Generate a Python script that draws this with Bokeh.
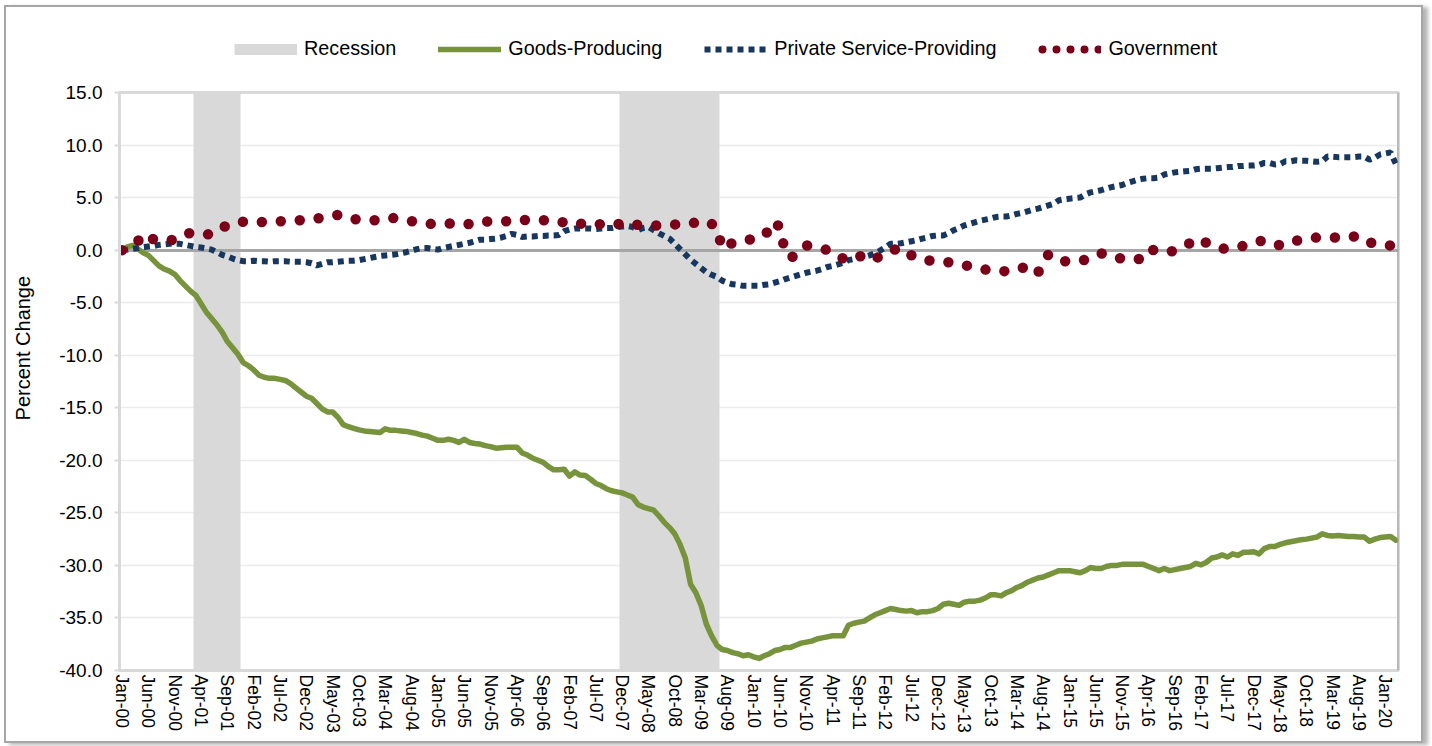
import math
from bokeh.plotting import figure
from bokeh.layouts import column
from bokeh.models import (FixedTicker, NumeralTickFormatter, Legend, LegendItem,
                          Span, ColumnDataSource)
from bokeh.embed import file_html
from bokeh.resources import INLINE

# ---------------- data (percent change since Jan-00, monthly Jan-00 .. Mar-20) -------------
tick_labels = ["Jan-00", "Jun-00", "Nov-00", "Apr-01", "Sep-01", "Feb-02", "Jul-02", "Dec-02",
               "May-03", "Oct-03", "Mar-04", "Aug-04", "Jan-05", "Jun-05", "Nov-05", "Apr-06",
               "Sep-06", "Feb-07", "Jul-07", "Dec-07", "May-08", "Oct-08", "Mar-09", "Aug-09",
               "Jan-10", "Jun-10", "Nov-10", "Apr-11", "Sep-11", "Feb-12", "Jul-12", "Dec-12",
               "May-13", "Oct-13", "Mar-14", "Aug-14", "Jan-15", "Jun-15", "Nov-15", "Apr-16",
               "Sep-16", "Feb-17", "Jul-17", "Dec-17", "May-18", "Oct-18", "Mar-19", "Aug-19",
               "Jan-20"]

# recession periods as month indices (0 = Jan-00)
rec_start = [14, 95]   # Mar-01, Dec-07
rec_end = [22, 113]    # Nov-01, Jun-09

goods = [
    0.0, 0.3, 0.45, 0.1, -0.25, -0.5, -1.0, -1.5, -1.8, -2.0, -2.3, -2.9,
    -3.4, -3.9, -4.3, -5.1, -5.9, -6.5, -7.1, -7.8, -8.7, -9.3, -9.9, -10.7,
    -11.0, -11.4, -11.9, -12.1, -12.2, -12.2, -12.3, -12.4, -12.7, -13.1, -13.5, -13.9,
    -14.1, -14.6, -15.1, -15.4, -15.4, -15.9, -16.6, -16.8, -16.95, -17.1, -17.2, -17.25,
    -17.3, -17.35, -17.0, -17.15, -17.15, -17.2, -17.25, -17.35, -17.45, -17.6, -17.7, -17.9,
    -18.1, -18.1, -18.0, -18.1, -18.3, -18.0, -18.3, -18.4, -18.45, -18.6, -18.7, -18.85,
    -18.8, -18.75, -18.75, -18.75, -19.3, -19.5, -19.8, -20.0, -20.2, -20.6, -20.9, -20.9,
    -20.85, -21.5, -21.1, -21.4, -21.45, -21.8, -22.2, -22.4, -22.7, -22.9, -23.0, -23.1,
    -23.3, -23.5, -24.2, -24.45, -24.6, -24.75, -25.3, -25.9, -26.4, -27.0, -28.0, -29.3,
    -31.8, -32.6, -33.8, -35.6, -36.7, -37.6, -38.0, -38.1, -38.3, -38.4, -38.6, -38.5,
    -38.7, -38.85, -38.6, -38.4, -38.1, -38.0, -37.8, -37.8, -37.6, -37.4, -37.3, -37.2,
    -37.0, -36.9, -36.8, -36.7, -36.7, -36.7, -35.7, -35.5, -35.4, -35.3, -35.0, -34.7,
    -34.5, -34.3, -34.1, -34.2, -34.3, -34.35, -34.3, -34.5, -34.4, -34.4, -34.3, -34.1,
    -33.7, -33.6, -33.7, -33.8, -33.5, -33.4, -33.4, -33.3, -33.1, -32.8, -32.8, -32.9,
    -32.6, -32.4, -32.1, -31.9, -31.6, -31.4, -31.2, -31.1, -30.9, -30.7, -30.5, -30.5,
    -30.5, -30.6, -30.7, -30.5, -30.2, -30.3, -30.3, -30.1, -30.0, -30.0, -29.9, -29.9,
    -29.9, -29.9, -29.9, -30.1, -30.3, -30.5, -30.3, -30.5, -30.4, -30.3, -30.2, -30.1,
    -29.8, -29.95, -29.7, -29.3, -29.2, -29.0, -29.2, -28.9, -29.05, -28.75, -28.75, -28.7,
    -28.9, -28.4, -28.2, -28.2, -28.0, -27.85, -27.75, -27.65, -27.55, -27.5, -27.4, -27.3,
    -27.0, -27.15, -27.2, -27.15, -27.2, -27.25, -27.25, -27.3, -27.3, -27.7, -27.5, -27.35,
    -27.3, -27.25, -27.6,
]

private = [
    0.0, 0.05, 0.13, 0.2, 0.3, 0.35, 0.4, 0.5, 0.55, 0.6, 0.6, 0.6,
    0.5, 0.4, 0.3, 0.25, 0.15, 0.05, -0.2, -0.45, -0.6, -0.8, -0.95, -1.05,
    -1.05, -1.0, -1.05, -1.05, -1.1, -1.05, -1.05, -1.05, -1.1, -1.1, -1.1, -1.15,
    -1.25, -1.45, -1.3, -1.15, -1.15, -1.1, -1.05, -1.0, -1.0, -0.95, -0.85, -0.75,
    -0.65, -0.55, -0.5, -0.45, -0.4, -0.3, -0.2, -0.05, 0.1, 0.2, 0.2, 0.1,
    0.05, 0.2, 0.3, 0.4, 0.5, 0.6, 0.7, 0.85, 1.0, 1.0, 1.05, 1.1,
    1.2, 1.35, 1.55, 1.45, 1.25, 1.3, 1.3, 1.35, 1.35, 1.4, 1.4, 1.45,
    1.8, 1.95, 2.05, 2.05, 2.05, 2.05, 2.0, 2.05, 2.1, 2.1, 2.2, 2.25,
    2.3, 2.2, 1.9, 2.1, 2.2, 1.9, 1.6, 1.35, 1.1, 0.6, 0.1, -0.4,
    -0.9, -1.3, -1.7, -2.1, -2.35, -2.55, -2.9, -3.1, -3.25, -3.3, -3.4, -3.4,
    -3.4, -3.4, -3.3, -3.25, -3.1, -2.95, -2.75, -2.6, -2.45, -2.3, -2.15, -2.05,
    -1.95, -1.8, -1.6, -1.5, -1.35, -1.2, -0.95, -0.85, -0.75, -0.65, -0.5, -0.3,
    -0.05, 0.25, 0.6, 0.6, 0.65, 0.75, 0.85, 0.95, 1.1, 1.2, 1.35, 1.4,
    1.4, 1.6, 1.9, 2.1, 2.35, 2.5, 2.65, 2.8, 2.9, 3.0, 3.15, 3.2,
    3.2, 3.3, 3.45, 3.55, 3.7, 3.85, 3.95, 4.1, 4.25, 4.4, 4.75, 4.85,
    4.9, 4.95, 5.0, 5.3, 5.5, 5.6, 5.7, 5.85, 6.0, 6.1, 6.2, 6.4,
    6.55, 6.7, 6.8, 6.85, 6.85, 6.9, 7.2, 7.3, 7.4, 7.45, 7.5, 7.55,
    7.7, 7.75, 7.75, 7.75, 7.8, 7.85, 7.9, 7.9, 8.0, 8.0, 8.05, 8.05,
    8.1, 8.3, 8.3, 8.15, 8.2, 8.45, 8.45, 8.55, 8.5, 8.5, 8.45, 8.4,
    8.45, 8.9, 8.9, 8.85, 8.85, 8.85, 8.85, 8.9, 8.9, 8.6, 8.8, 9.1,
    9.2, 9.3, 8.2,
]

government = [
    0.0, 0.3, 0.6, 0.85, 1.5, 1.4, 1.0, 0.9, 0.9, 0.95, 1.0, 1.2,
    1.5, 1.65, 1.6, 1.5, 1.5, 1.5, 1.7, 2.1, 2.4, 2.55, 2.65, 2.7,
    2.75, 2.7, 2.7, 2.65, 2.7, 2.7, 2.75, 2.75, 2.8, 2.8, 2.85, 2.85,
    2.9, 3.0, 3.1, 3.2, 3.3, 3.35, 3.2, 3.0, 2.95, 2.9, 2.85, 2.85,
    2.85, 2.95, 3.05, 3.1, 3.0, 2.9, 2.85, 2.75, 2.65, 2.55, 2.5, 2.5,
    2.55, 2.55, 2.55, 2.5, 2.45, 2.4, 2.5, 2.6, 2.75, 2.75, 2.7, 2.7,
    2.7, 2.75, 2.85, 2.95, 2.9, 2.85, 2.85, 2.85, 2.85, 2.85, 2.85, 2.8,
    2.6, 2.45, 2.4, 2.5, 2.6, 2.65, 2.55, 2.45, 2.35, 2.35, 2.45, 2.55,
    2.6, 2.5, 2.4, 2.35, 2.35, 2.35, 2.35, 2.35, 2.4, 2.45, 2.45, 2.45,
    2.5, 2.65, 2.8, 2.75, 2.5, 2.1, 0.15, 0.4, 0.7, 0.8, 0.9, 1.0,
    1.05, 1.2, 1.4, 2.0, 2.75, 2.1, -0.3, -0.7, -0.5, 0.1, 0.45, 0.35,
    0.25, 0.15, 0.0, -0.3, -0.6, -0.8, -0.6, -0.4, -0.5, -0.8, -1.0, -0.8,
    -0.6, -0.3, -0.1, 0.1, 0.2, -0.2, -0.5, -0.75, -0.85, -0.95, -1.05, -1.05,
    -1.1, -1.15, -1.2, -1.25, -1.4, -1.55, -1.7, -1.8, -1.85, -1.95, -1.95, -2.0,
    -2.0, -2.0, -1.9, -1.7, -1.5, -1.9, -2.15, -1.2, -0.4, -0.7, -0.9, -1.05,
    -1.05, -1.05, -1.05, -0.9, -0.7, -0.5, -0.3, -0.45, -0.6, -0.75, -0.8, -0.85,
    -0.85, -0.9, -0.6, 0.1, 0.0, -0.1, -0.15, -0.2, 0.0, 0.2, 0.45, 0.7,
    1.1, 0.9, 0.7, 0.55, 0.35, 0.15, 0.13, 0.2, 0.3, 0.4, 0.55, 0.75,
    0.85, 0.9, 0.8, 0.6, 0.45, 0.55, 0.75, 0.9, 1.0, 1.1, 1.15, 1.2,
    1.2, 1.2, 1.2, 1.2, 1.2, 1.25, 1.3, 1.3, 1.1, 0.75, 0.6, 0.5,
    0.45, 0.45, 0.4,
]

# ---------------- styling constants ----------------
FONT = "Liberation Sans"
GREEN = "#77933c"
NAVY = "#17375e"
RED = "#7a0019"
SHADE = "#d9d9d9"
W = 1415
H_TOP = 74
H_MAIN = 660
NAN = float("nan")

months = list(range(len(goods)))
src = ColumnDataSource(dict(x=months, goods=goods, private=private, gov=government))

# ---------------- legend strip (top) ----------------
top = figure(width=W, height=H_TOP, output_backend="svg", toolbar_location=None,
             x_axis_location=None, y_axis_location=None, x_range=(0, 1), y_range=(0, 1),
             min_border_left=0, min_border_right=0, min_border_top=0, min_border_bottom=0)
top.outline_line_color = None
top.background_fill_color = "white"
top.border_fill_color = "white"
top.xgrid.visible = False
top.ygrid.visible = False

d_rec = top.line(x=[NAN], y=[NAN], line_color=SHADE, line_width=11)
d_goods = top.line(x=[NAN], y=[NAN], line_color=GREEN, line_width=5.5, line_cap="round")
d_priv = top.line(x=[NAN], y=[NAN], line_color=NAVY, line_width=6, line_dash="6 5")
d_gov = top.line(x=[NAN], y=[NAN], line_color=RED, line_width=8, line_dash="0 14",
                 line_dash_offset=-4, line_cap="round")

legend = Legend(items=[LegendItem(label="Recession", renderers=[d_rec]),
                       LegendItem(label="Goods-Producing", renderers=[d_goods]),
                       LegendItem(label="Private Service-Providing", renderers=[d_priv]),
                       LegendItem(label="Government", renderers=[d_gov])],
                orientation="horizontal", location=(228, 21),
                glyph_width=63, glyph_height=22, label_height=22, label_standoff=7,
                spacing=42, padding=0, margin=0, border_line_color=None,
                background_fill_alpha=0, label_text_font=FONT,
                label_text_font_size="19.8px", label_text_color="#000000")
top.add_layout(legend)

# ---------------- main chart ----------------
p = figure(width=W, height=H_MAIN, output_backend="svg", toolbar_location=None,
           x_range=(-0.5, len(goods) - 0.5), y_range=(-40, 15),
           min_border_left=113, min_border_top=11, min_border_right=23, min_border_bottom=71)
p.background_fill_color = "white"
p.border_fill_color = "white"
p.outline_line_color = SHADE
p.outline_line_width = 3

for f in (top, p):
    if "frame_align" in f.properties():
        f.frame_align = False

# recession shading
p.vstrip(x0=[s - 0.5 for s in rec_start], x1=[e + 0.5 for e in rec_end],
         fill_color=SHADE, line_color=None)
# zero line
p.hspan(y=[0], line_color="#a6a6a6", line_width=3)

p.line("x", "goods", source=src, line_color=GREEN, line_width=5.5,
       line_join="round", line_cap="round")
p.line("x", "private", source=src, line_color=NAVY, line_width=6, line_dash="6 5")
p.line("x", "gov", source=src, line_color=RED, line_width=10.5, line_dash="0 19",
       line_cap="round", line_join="round")

# right frame edge
p.add_layout(Span(location=len(goods) - 0.5, dimension="height",
                  line_color="#9a9a9a", line_width=2))

# axes
tick_pos = list(range(0, len(goods), 5))[:len(tick_labels)]
p.xaxis.ticker = FixedTicker(ticks=tick_pos)
p.xaxis.major_label_overrides = dict(zip(tick_pos, tick_labels))
p.xaxis.major_label_orientation = "vertical"
p.xaxis.major_tick_out = 0
p.xaxis.major_tick_in = 0
p.xaxis.minor_tick_out = 0
p.xaxis.minor_tick_in = 0
p.xaxis.major_label_standoff = 4
p.xaxis.major_label_text_font = FONT
p.xaxis.major_label_text_font_size = "17.5px"
p.xaxis.major_label_text_color = "#000000"
p.xaxis.axis_line_color = SHADE
p.xaxis.axis_line_width = 3

p.yaxis.ticker = FixedTicker(ticks=list(range(-40, 16, 5)))
p.yaxis.formatter = NumeralTickFormatter(format="0.0")
p.yaxis.major_tick_out = 5
p.yaxis.major_tick_in = 0
p.yaxis.minor_tick_out = 0
p.yaxis.minor_tick_in = 0
p.yaxis.major_tick_line_color = SHADE
p.yaxis.major_tick_line_width = 2
p.yaxis.major_label_standoff = 12
p.yaxis.major_label_text_font = FONT
p.yaxis.major_label_text_font_size = "19px"
p.yaxis.major_label_text_color = "#000000"
p.yaxis.axis_line_color = SHADE
p.yaxis.axis_line_width = 3
# non-breaking padding shifts the centred title upward, as in the reference
p.yaxis.axis_label = "\u00a0" * 12 + "Percent Change"
p.yaxis.axis_label_text_font = FONT
p.yaxis.axis_label_text_font_size = "20px"
p.yaxis.axis_label_text_font_style = "normal"
p.yaxis.axis_label_text_color = "#000000"
p.yaxis.axis_label_standoff = 22

p.xgrid.visible = False
p.ygrid.ticker = FixedTicker(ticks=list(range(-40, 16, 5)))
p.ygrid.grid_line_color = "#ebebeb"
p.ygrid.grid_line_width = 1.5

layout = column(top, p, spacing=0, width=W + 4, height=H_TOP + H_MAIN + 4)
layout.styles = {"border": "2px solid #a6a6a6", "box-shadow": "5px 2px 4px #b5b5b5",
                 "margin": "5px 0px 0px 4px", "background-color": "white"}

open("out.html", "w").write(file_html(layout, INLINE))
